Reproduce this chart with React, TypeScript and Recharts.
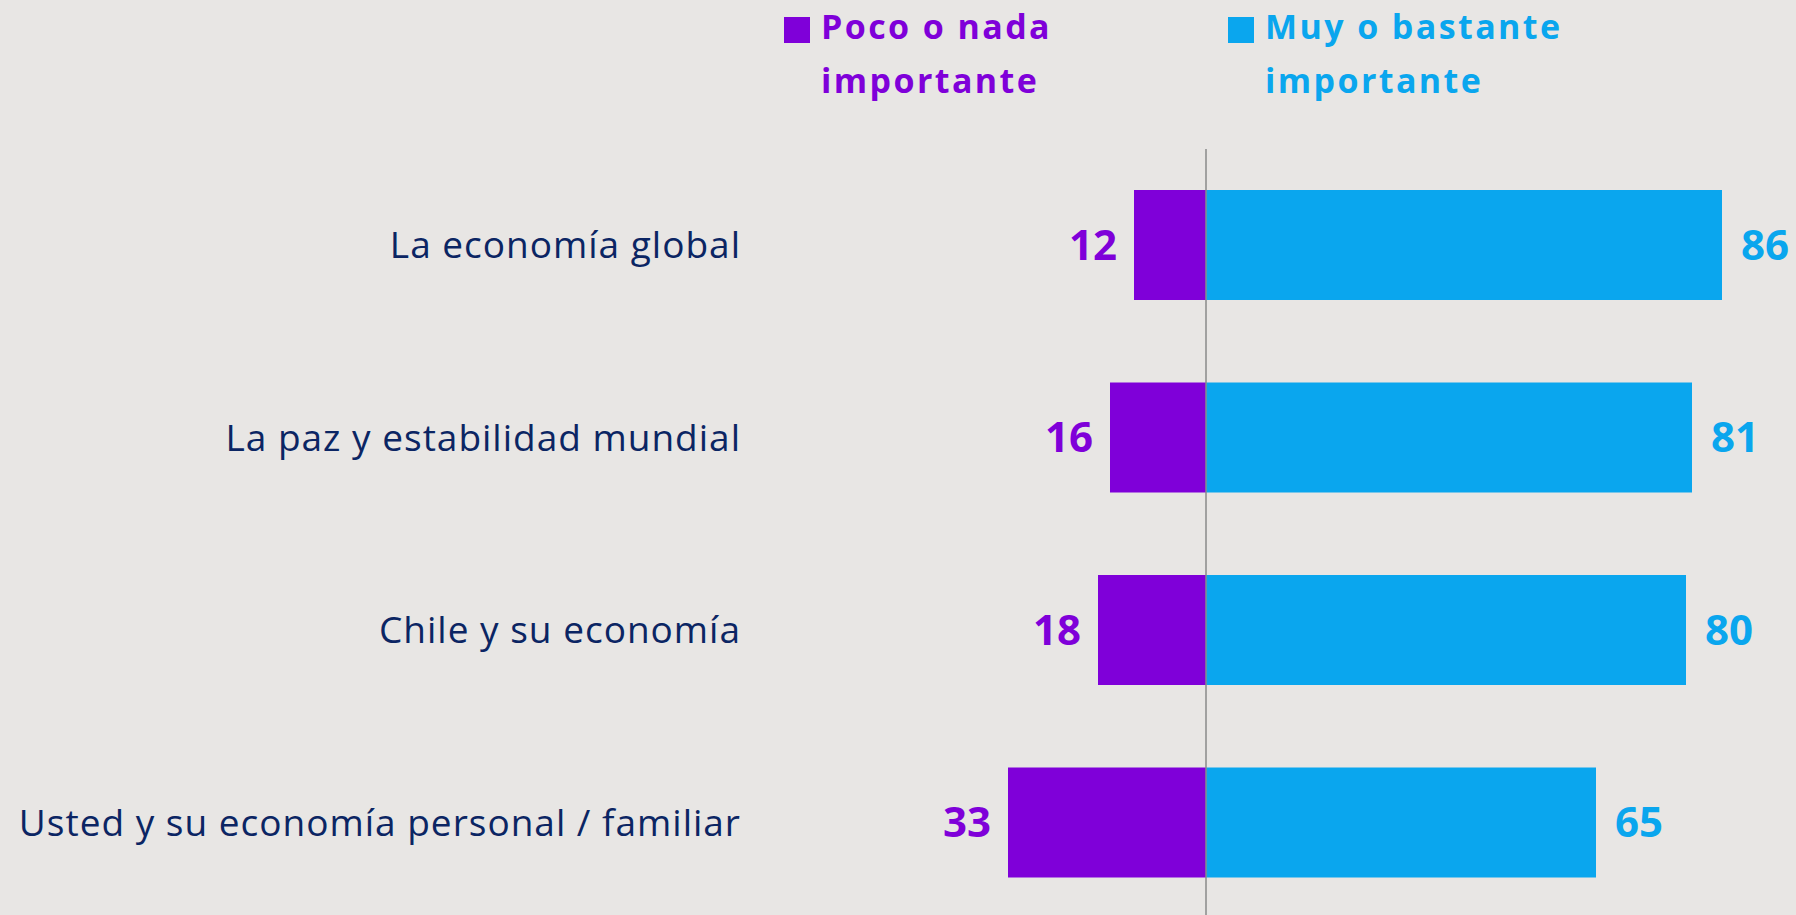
import React from "react"
import {
  BarChart,
  Bar,
  XAxis,
  YAxis,
  Legend,
  LabelList,
  ReferenceLine,
} from "recharts"

const categories = [
  "La economía global",
  "La paz y estabilidad mundial",
  "Chile y su economía",
  "Usted y su economía personal / familiar",
]
const pocoValues = [12, 16, 18, 33]
const muyValues = [86, 81, 80, 65]

const PURPLE = "#7F00D9"
const BLUE = "#0AA6EE"
const NAVY = "#0B2563"
const BG = "#E8E6E4"
const FONT = "'Open Sans', 'Noto Sans', sans-serif"

const data = categories.map((name, i) => ({
  name,
  poco: -pocoValues[i],
  muy: muyValues[i],
}))

const legendPos: Record<string, { square: number; text: number }> = {
  poco: { square: 784, text: 821 },
  muy: { square: 1228, text: 1265 },
}

function LegendContent({ payload }: { payload?: any[] }) {
  return (
    <div style={{ position: "relative", height: 0 }}>
      {(payload || []).map((p) => {
        const pos = legendPos[p.dataKey]
        return (
          <React.Fragment key={p.dataKey}>
            <div
              style={{
                position: "absolute",
                left: pos.square,
                top: 17,
                width: 26,
                height: 26,
                background: p.color,
              }}
            />
            <div
              style={{
                position: "absolute",
                left: pos.text,
                top: -1,
                width: 330,
                color: p.color,
                fontFamily: FONT,
                fontWeight: 700,
                fontSize: 34,
                letterSpacing: 2.4,
                lineHeight: "54px",
                textAlign: "left",
              }}
            >
              {p.value}
            </div>
          </React.Fragment>
        )
      })}
    </div>
  )
}

const numStyle = { fontSize: 42, fontWeight: 700, fontFamily: FONT }

export default function App() {
  return (
    <div
      style={{
        position: "fixed",
        left: 0,
        top: 0,
        width: 1796,
        height: 915,
        overflow: "hidden",
        background: BG,
      }}
    >
      <BarChart
        width={1796}
        height={960}
        data={data}
        layout="vertical"
        stackOffset="sign"
        margin={{ top: 149, right: 20, bottom: 41, left: 1 }}
      >
        <XAxis type="number" domain={[-40, 95]} hide allowDataOverflow />
        <YAxis
          type="category"
          dataKey="name"
          width={965}
          axisLine={false}
          tickLine={false}
          tickSize={0}
          tickMargin={225}
          tick={{ fill: NAVY, fontSize: 37, fontFamily: FONT, letterSpacing: 1 }}
        />
        <Legend
          verticalAlign="top"
          align="left"
          content={<LegendContent />}
          wrapperStyle={{ top: 0, left: 0, width: 1796 }}
        />
        <Bar
          dataKey="poco"
          name="Poco o nada importante"
          stackId="a"
          fill={PURPLE}
          barSize={110}
          isAnimationActive={false}
        >
          <LabelList
            dataKey="poco"
            position="right"
            offset={17}
            formatter={(v: any) => Math.abs(Number(v))}
            fill={PURPLE}
            style={numStyle}
          />
        </Bar>
        <Bar
          dataKey="muy"
          name="Muy o bastante importante"
          stackId="a"
          fill={BLUE}
          barSize={110}
          isAnimationActive={false}
        >
          <LabelList
            dataKey="muy"
            position="right"
            offset={19}
            fill={BLUE}
            style={numStyle}
          />
        </Bar>
        <ReferenceLine x={0} stroke="#8A8A8A" strokeWidth={1.5} />
      </BarChart>
    </div>
  )
}
